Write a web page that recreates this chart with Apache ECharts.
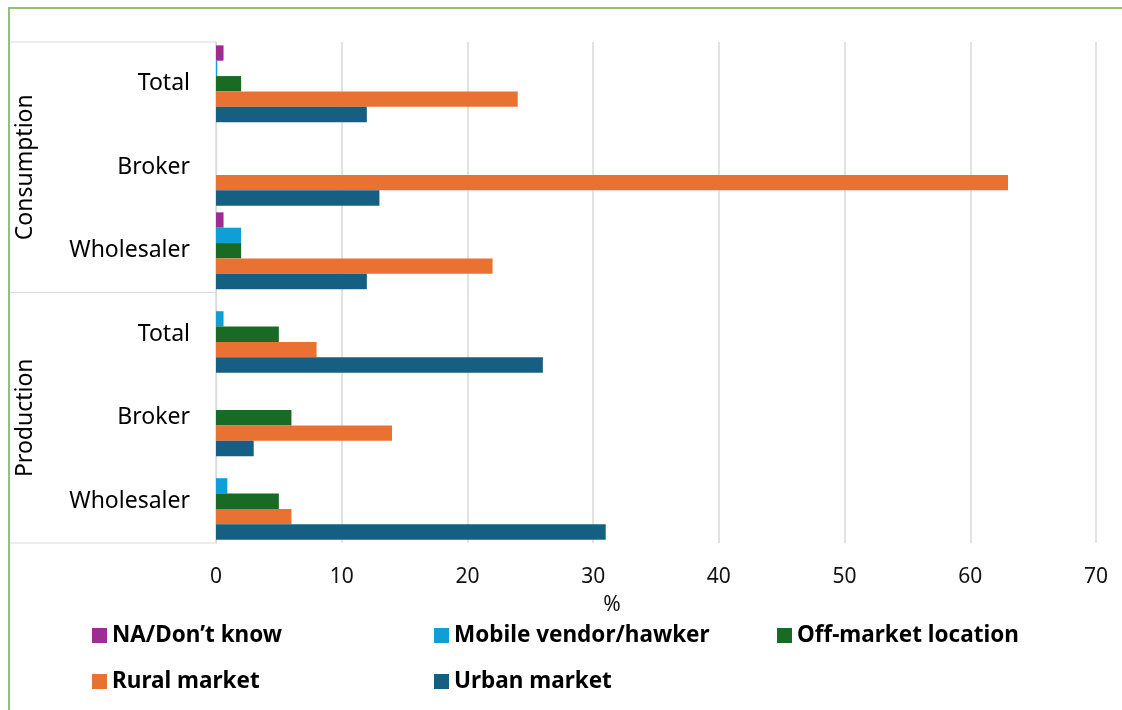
<!DOCTYPE html>
<html>
<head>
<meta charset="utf-8">
<script src="https://cdn.jsdelivr.net/npm/echarts@6/dist/echarts.min.js"></script>
<style>
html,body{margin:0;padding:0;background:#fff;}
#chart{width:1122px;height:710px;}
</style>
</head>
<body>
<div id="chart"></div>
<script>
// Data (top-to-bottom order of categories)
var categories = ['Total', 'Broker', 'Wholesaler', 'Total', 'Broker', 'Wholesaler'];
var groups = ['Consumption', 'Production'];
var seriesNames = ['NA/Don\u2019t know', 'Mobile vendor/hawker', 'Off-market location', 'Rural market', 'Urban market'];
var naDontKnow   = [0.6, 0, 0.6, 0, 0, 0];
var mobileVendor = [0.1, 0, 2, 0.6, 0, 0.9];
var offMarket    = [2, 0, 2, 5, 6, 5];
var ruralMarket  = [24, 63, 22, 8, 14, 6];
var urbanMarket  = [12, 13, 12, 26, 3, 31];
var xTicks = [0, 10, 20, 30, 40, 50, 60, 70];

var colors = ['#A02B93', '#0F9ED5', '#196B24', '#E97132', '#156082'];
var values = [naDontKnow, mobileVendor, offMarket, ruralMarket, urbanMarket];

var font = '"Noto Sans", "Open Sans", sans-serif';
var G = {left: 216, right: 26, top: 42, bottom: 167};
var W = 1122, H = 710;
var plotTop = G.top, plotBottom = H - G.bottom, plotLeft = G.left;

var series = seriesNames.map(function (n, i) {
  return {
    name: n, type: 'bar', data: values[i],
    itemStyle: {color: colors[i]},
    barGap: '0%', barCategoryGap: '8%'
  };
});

var legendPos = [[92, 624], [434, 624], [777, 624], [92, 670], [434, 670]];
var legends = seriesNames.map(function (n, i) {
  return {
    data: [n], left: legendPos[i][0], top: legendPos[i][1],
    icon: 'rect', itemWidth: 15, itemHeight: 15, itemGap: 0,
    textStyle: {fontFamily: font, fontSize: 22.5, fontWeight: 'bold', color: '#000', padding: [0, 0, 0, 0]},
    padding: 0, selectedMode: false
  };
});

var chart = echarts.init(document.getElementById('chart'), null, {renderer: 'canvas'});
var bandH = (plotBottom - plotTop) / categories.length;
var lineStyle = {stroke: '#d9d9d9', lineWidth: 1.2};
var graphics = [
  {type: 'rect', shape: {x: 9, y: 8, width: W + 20, height: H + 20}, style: {fill: null, stroke: '#8fc46c', lineWidth: 2}, silent: true},
  {type: 'line', shape: {x1: 10, y1: plotTop, x2: plotLeft, y2: plotTop}, style: lineStyle},
  {type: 'line', shape: {x1: 10, y1: plotTop + bandH * 3, x2: plotLeft, y2: plotTop + bandH * 3}, style: lineStyle},
  {type: 'line', shape: {x1: 10, y1: plotBottom, x2: plotLeft, y2: plotBottom}, style: lineStyle},
  {type: 'text', x: 25, y: plotTop + bandH * 1.5, rotation: Math.PI / 2,
   style: {text: groups[0], fontFamily: font, fontSize: 23, fill: '#000', align: 'center', verticalAlign: 'middle'}},
  {type: 'text', x: 25, y: plotTop + bandH * 4.5, rotation: Math.PI / 2,
   style: {text: groups[1], fontFamily: font, fontSize: 23, fill: '#000', align: 'center', verticalAlign: 'middle'}}
];

chart.setOption({
  animation: false,
  color: colors,
  grid: {left: G.left, right: G.right, top: G.top, bottom: G.bottom, containLabel: false},
  legend: legends,
  xAxis: {
    type: 'value', min: xTicks[0], max: xTicks[xTicks.length - 1], interval: 10,
    name: '%', nameLocation: 'middle', nameGap: 52,
    nameTextStyle: {fontFamily: font, fontSize: 21, color: '#111', padding: [0, 88, 0, 0]},
    axisLine: {show: false}, axisTick: {show: false},
    axisLabel: {fontFamily: font, fontSize: 21, color: '#111', margin: 24},
    splitLine: {show: true, lineStyle: {color: '#d9d9d9', width: 1.5}}
  },
  yAxis: {
    type: 'category', data: categories, inverse: true,
    axisLine: {show: true, lineStyle: {color: '#d9d9d9', width: 1.2}},
    axisTick: {show: false},
    axisLabel: {fontFamily: font, fontSize: 23, color: '#000', margin: 26}
  },
  series: series,
  graphic: graphics
});
</script>
</body>
</html>
